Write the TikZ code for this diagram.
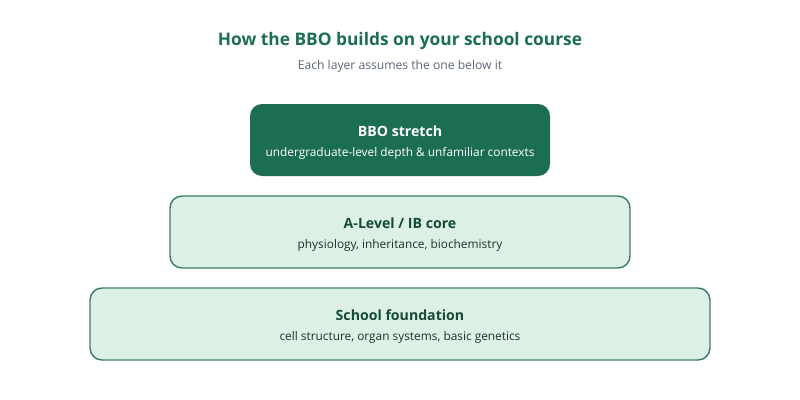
\documentclass[tikz,border=0pt]{standalone}
\usepackage{fontspec}
\setmainfont{Open Sans}
\definecolor{bbogreen}{HTML}{1B6E50}
\definecolor{bbodark}{HTML}{154A36}
\definecolor{bbomint}{HTML}{DDF0E6}
\definecolor{bboedge}{HTML}{3A7F62}
\definecolor{bbogrey}{HTML}{5B6577}
\definecolor{bbotext}{HTML}{1F302A}
\tikzset{
  layerbox/.style={draw=bboedge, line width=1.1pt, fill=bbomint, rounded corners=9pt, minimum height=54pt},
  headtext/.style={font=\bfseries\fontsize{10.6}{12}\selectfont, text=bbodark},
  subtext/.style={font=\fontsize{8.9}{10}\selectfont, text=bbotext}
}
\begin{document}
\begin{tikzpicture}[x=0.75pt,y=-0.75pt]
        \useasboundingbox (0,0) rectangle (800,400);
        \node[font=\bfseries\fontsize{13}{15}\selectfont, text=bbogreen] (title) at (400,41) {How the BBO builds on your school course};
        \node[font=\fontsize{9.1}{10}\selectfont, text=bbogrey] (subtitle) at (400,66) {Each layer assumes the one below it};
        \node[layerbox, draw=none, fill=bbogreen, minimum width=225pt] (stretch) at (400,140) {};
        \node[headtext, text=white] (stretchhead) at (400,131) {BBO stretch};
        \node[subtext, text=white] (stretchsub) at (400,153) {undergraduate-level depth \& unfamiliar contexts};
        \node[layerbox, minimum width=345pt] (core) at (400,232) {};
        \node[headtext] (corehead) at (400,223) {A-Level / IB core};
        \node[subtext] (coresub) at (400,245) {physiology, inheritance, biochemistry};
        \node[layerbox, minimum width=465pt] (foundation) at (400,324) {};
        \node[headtext] (foundationhead) at (400,315) {School foundation};
        \node[subtext] (foundationsub) at (400,337) {cell structure, organ systems, basic genetics};
      \end{tikzpicture}
\end{document}
